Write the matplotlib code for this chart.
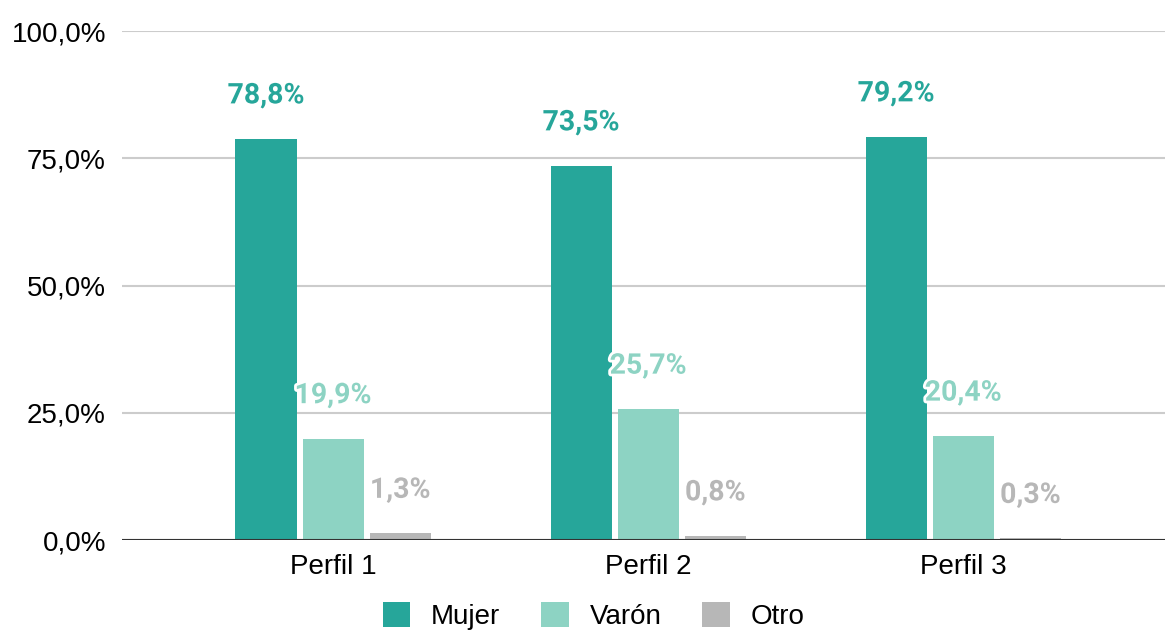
import matplotlib.pyplot as plt
import matplotlib.patheffects as pe
import numpy as np

perfiles = ["Perfil 1", "Perfil 2", "Perfil 3"]
series = ["Mujer", "Varón", "Otro"]
mujer = [78.8, 73.5, 79.2]
varon = [19.9, 25.7, 20.4]
otro = [1.3, 0.8, 0.3]
colors = ["#26a69a", "#8dd3c3", "#b7b7b7"]
yticks = [0, 25, 50, 75, 100]


def fmt(v):
    return ("%.1f%%" % v).replace(".", ",")


fig = plt.figure(figsize=(11.66, 6.35), dpi=100)
ax = fig.add_axes([0.1046, 0.1496, 0.8945, 0.8015])

x = np.arange(len(perfiles))
width = 0.194
step = 0.213
handles = []
for i, (name, vals) in enumerate(zip(series, [mujer, varon, otro])):
    pos = x + (i - 1) * step
    bars = ax.bar(pos, vals, width, color=colors[i], label=name, zorder=3)
    handles.append(bars)
    for px, v in zip(pos, vals):
        ax.annotate(fmt(v), (px, v), xytext=(0, 31), textcoords="offset points",
                    ha="center", va="center", fontsize=20.5, fontweight="bold",
                    family="Roboto", color=colors[i], zorder=4,
                    path_effects=[pe.withStroke(linewidth=4, foreground="white")])

ax.set_xlim(-0.67, 2.64)
ax.set_ylim(0, 100)
ax.set_yticks(yticks)
ax.set_yticklabels([fmt(t) for t in yticks], family="Liberation Sans", fontsize=20)
ax.set_xticks(x)
ax.set_xticklabels(perfiles, family="Liberation Sans", fontsize=20)
ax.grid(axis="y", color="#cccccc", linewidth=1.5, zorder=0)
ax.axhline(0, color="#333333", linewidth=1.5, zorder=5)
for s in ax.spines.values():
    s.set_visible(False)
ax.tick_params(length=0)
ax.tick_params(axis="y", pad=11.5)
ax.tick_params(axis="x", pad=10)

fig.legend(handles, series, loc="center", bbox_to_anchor=(0.509, 0.03), ncol=3,
           frameon=False, prop={"family": "Liberation Sans", "size": 20},
           handlelength=1.0, handleheight=1.0, handletextpad=0.75, columnspacing=1.46)

fig.savefig("out.png", dpi=100)
